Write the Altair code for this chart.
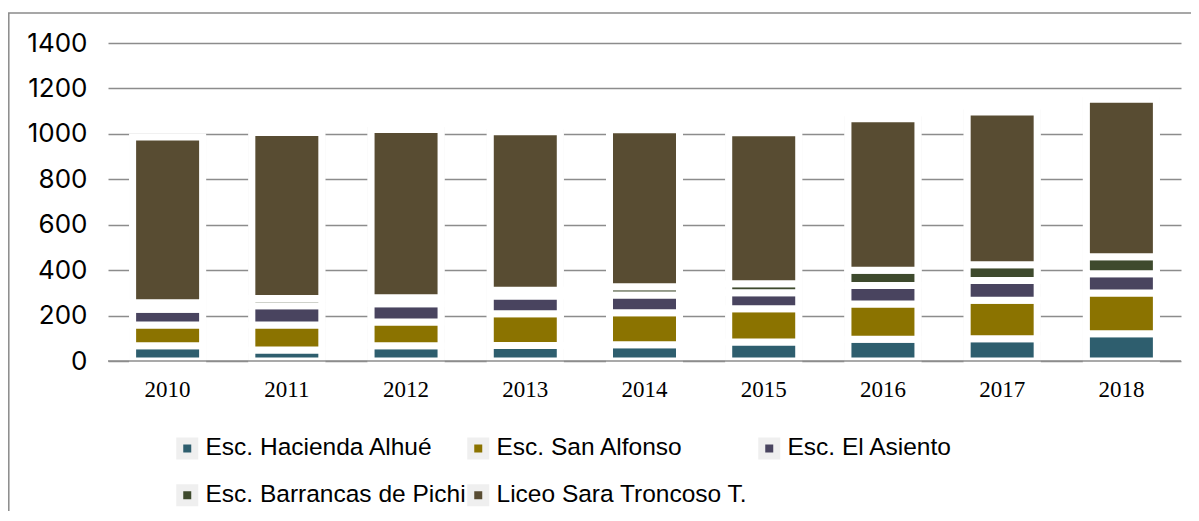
import altair as alt
import pandas as pd

years = ["2010", "2011", "2012", "2013", "2014", "2015", "2016", "2017", "2018"]
schools = ["Esc. Hacienda Alhué", "Esc. San Alfonso", "Esc. El Asiento",
           "Esc. Barrancas de Pichi", "Liceo Sara Troncoso T."]
hacienda = [67, 48, 67, 68, 72, 84, 96, 98, 120]
alfonso = [91, 110, 105, 140, 140, 146, 155, 170, 179]
asiento = [70, 85, 80, 78, 79, 71, 81, 86, 85]
barrancas = [28, 32, 26, 25, 36, 39, 68, 70, 75]
liceo = [730, 731, 741, 698, 691, 665, 667, 672, 693]
colors = ["#2E5E6E", "#8B7300", "#49445F", "#3E4A2D", "#584C32"]
y_ticks = [0, 200, 400, 600, 800, 1000, 1200, 1400]

series = [hacienda, alfonso, asiento, barrancas, liceo]
rows = []
for i, yr in enumerate(years):
    for k, (s, vals) in enumerate(zip(schools, series)):
        rows.append({"year": yr, "school": s, "order": k, "value": vals[i]})
df = pd.DataFrame(rows)

W, H = 1073, 318

x_enc = alt.X("year:N", sort=years, title=None,
              scale=alt.Scale(paddingInner=0, paddingOuter=0),
              axis=alt.Axis(labelAngle=0, labelFont="Liberation Serif", labelFontSize=23,
                            labelColor="#000000", ticks=False, domain=False, labelPadding=17,
                            grid=False))

y_scale = alt.Scale(domain=[0, 1400])
y_axis = alt.Axis(values=y_ticks, format="d", title=None, grid=True, gridColor="#8c8c8c",
                  gridWidth=1.5, domain=False, ticks=False, labelFont="Inter", labelFontSize=26,
                  labelColor="#000000", labelPadding=21)

glow = alt.Chart(df).mark_bar(color="#eeeeee", stroke="#eeeeee", strokeWidth=5, size=72).encode(
    x=x_enc,
    y=alt.Y("sum(value):Q", scale=y_scale, axis=y_axis),
)

bars = alt.Chart(df).mark_bar(size=70, stroke="white", strokeWidth=7).encode(
    x=x_enc,
    y=alt.Y("value:Q", stack="zero", scale=y_scale, axis=y_axis),
    color=alt.Color("school:N", scale=alt.Scale(domain=schools, range=colors),
                    legend=alt.Legend(title=None, orient="none", legendX=67, legendY=393,
                                      direction="horizontal", columns=3, gridAlign="all",
                                      columnPadding=-11, rowPadding=3, symbolType="square",
                                      symbolSize=225, symbolStrokeWidth=7,
                                      symbolStrokeColor="#efefef", labelFont="Liberation Sans",
                                      labelFontSize=24.5, labelOffset=6, labelColor="#000000",
                                      labelLimit=400, symbolOpacity=1)),
    order=alt.Order("order:Q"),
)

zero = alt.Chart(pd.DataFrame({"v": [0]})).mark_rule(color="#8c8c8c", strokeWidth=1.5).encode(
    y=alt.Y("v:Q", scale=y_scale)
)

border = alt.Chart(pd.DataFrame({"a": [0]})).mark_rect(
    fillOpacity=0, stroke="#8a8a8a", strokeWidth=1.5
).encode(x=alt.value(-99.2), x2=alt.value(1200), y=alt.value(-30), y2=alt.value(600))

chart = alt.layer(glow, bars, zero, border).properties(
    width=W, height=H,
    autosize=alt.AutoSizeParams(type="none"),
    padding={"left": 100, "top": 35, "right": 10, "bottom": 150},
).configure_view(stroke=None)

chart.save("out.html", embed_options={"renderer": "svg", "actions": False})
